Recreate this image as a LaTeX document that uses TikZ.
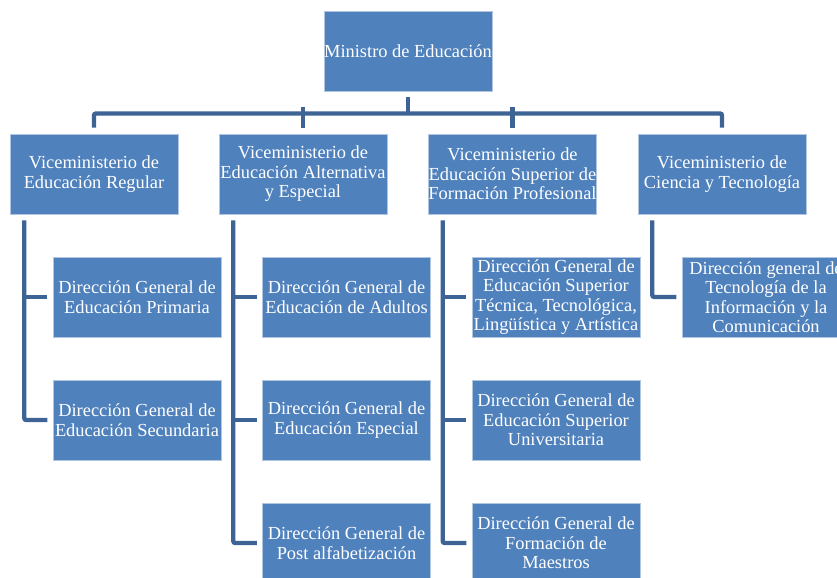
\documentclass[tikz,border=0pt]{standalone}
\usepackage{fontspec}
\setmainfont{Liberation Serif}
\usepackage{tikz}

\definecolor{boxblue}{RGB}{79,129,189}
\definecolor{lineblue}{RGB}{62,100,150}

\begin{document}
\begin{tikzpicture}[x=0.75pt,y=-0.75pt,
  box/.style={fill=boxblue,draw=white!55!boxblue,line width=0.6pt,text=white,
    minimum width=126pt,minimum height=60pt,inner sep=0pt,align=center,
    font=\fontsize{13.8}{14.6}\selectfont},
  conn/.style={draw=lineblue,line width=3.3pt,rounded corners=1.5pt}]
\useasboundingbox (0,0) rectangle (837,577);

\node[box] (min) at (408,51) {Ministro de Educación};

\node[box] (v1) at (94,174) {Viceministerio de\\Educación Regular};
\node[box] (v2) at (303,174) {Viceministerio de\\Educación Alternativa\\y Especial};
\node[box] (v3) at (512.5,174) {Viceministerio de\\Educación Superior de\\Formación Profesional};
\node[box] (v4) at (722,174) {Viceministerio de\\Ciencia y Tecnología};

\node[box] (p1) at (137,297) {Dirección General de\\Educación Primaria};
\node[box] (p2) at (137,420) {Dirección General de\\Educación Secundaria};

\node[box] (a1) at (346.5,297) {Dirección General de\\Educación de Adultos};
\node[box] (a2) at (346.5,420) {Dirección General de\\Educación Especial};
\node[box] (a3) at (346.5,543) {Dirección General de\\Post alfabetización};

\node[box] (s1) at (556,297) {Dirección General de\\Educación Superior\\Técnica, Tecnológica,\\Lingüística y Artística};
\node[box] (s2) at (556,420) {Dirección General de\\Educación Superior\\Universitaria};
\node[box] (s3) at (556,543) {Dirección General de\\Formación de\\Maestros};

\node[box] (t1) at (766,297) {Dirección general de\\Tecnología de la\\Información y la\\Comunicación};

% ministro -> viceministerios
\coordinate (bar) at (408,113.5);
\draw[conn] ([yshift=-4.5pt]min.south) -- (bar);
\draw[conn] ([yshift=4.5pt]v1.north) |- (bar) -| ([yshift=4.5pt]v4.north);
\draw[conn] ([yshift=4.5pt]v2.north) -- ([yshift=4.5pt]v2.north |- bar);
\draw[conn] ([yshift=4.5pt]v3.north) -- ([yshift=4.5pt]v3.north |- bar);

% viceministerios -> direcciones
\coordinate (c1) at ([xshift=11pt,yshift=-4.5pt]v1.south west);
\coordinate (c2) at ([xshift=11pt,yshift=-4.5pt]v2.south west);
\coordinate (c3) at ([xshift=11pt,yshift=-4.5pt]v3.south west);
\coordinate (c4) at ([xshift=11pt,yshift=-4.5pt]v4.south west);

\draw[conn] (c1) |- ([xshift=-4pt]p2.west);
\draw[conn] ([xshift=-4pt]p1.west) -- (c1 |- p1.west);

\draw[conn] (c2) |- ([xshift=-4pt]a3.west);
\draw[conn] ([xshift=-4pt]a1.west) -- (c2 |- a1.west);
\draw[conn] ([xshift=-4pt]a2.west) -- (c2 |- a2.west);

\draw[conn] (c3) |- ([xshift=-4pt]s3.west);
\draw[conn] ([xshift=-4pt]s1.west) -- (c3 |- s1.west);
\draw[conn] ([xshift=-4pt]s2.west) -- (c3 |- s2.west);

\draw[conn] (c4) |- ([xshift=-4pt]t1.west);
\end{tikzpicture}
\end{document}
